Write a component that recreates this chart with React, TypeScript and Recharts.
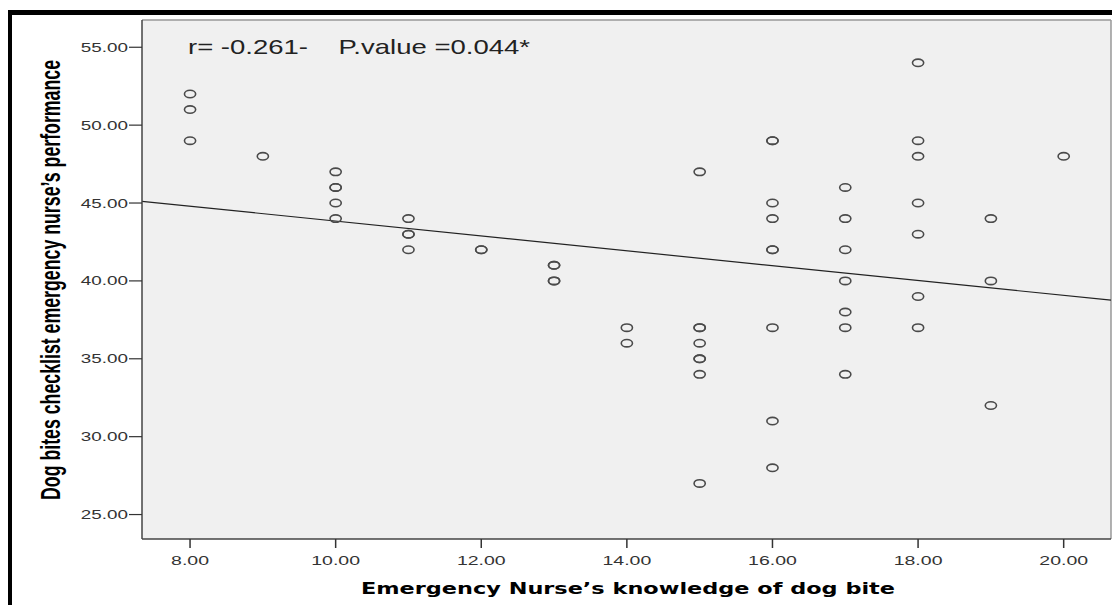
import React from 'react';
import { ScatterChart, Scatter, XAxis, YAxis, ReferenceLine, CartesianGrid } from 'recharts';

// Nurse knowledge score (x) and checklist performance score (y), one entry per nurse
const knowledge = [
  8, 8, 8,
  9,
  10, 10, 10, 10, 10,
  11, 11, 11, 11,
  12, 12,
  13, 13, 13, 13,
  14, 14,
  15, 15, 15, 15, 15, 15, 15, 15,
  16, 16, 16, 16, 16, 16, 16, 16, 16,
  17, 17, 17, 17, 17, 17, 17,
  18, 18, 18, 18, 18, 18, 18,
  19, 19, 19,
  20,
];
const performance = [
  52, 51, 49,
  48,
  47, 46, 46, 45, 44,
  44, 43, 43, 42,
  42, 42,
  41, 41, 40, 40,
  37, 36,
  47, 37, 37, 36, 35, 35, 34, 27,
  49, 49, 45, 44, 42, 42, 37, 31, 28,
  46, 44, 42, 40, 38, 37, 34,
  54, 49, 48, 45, 43, 39, 37,
  44, 40, 32,
  48,
];

// Fitted regression line endpoints
const fitX = [7.34, 20.65];
const fitY = [45.11, 38.76];

const xDomain = [7.34, 20.65];
const yDomain = [23.43, 56.75];
const xTicks = [8, 10, 12, 14, 16, 18, 20];
const yTicks = [25, 30, 35, 40, 45, 50, 55];

const annotation = 'r= -0.261-    P.value =0.044*';
const xTitle = 'Emergency Nurse\u2019s knowledge of dog bite';
const yTitle = 'Dog bites checklist emergency nurse\u2019s performance';

const points = knowledge.map((k, i) => ({ x: k, y: performance[i] }));

const Ring = (props: any) => {
  const { cx, cy } = props;
  if (cx == null || cy == null) return null;
  return <ellipse cx={cx} cy={cy} rx={5.6} ry={3.7} fill="none" stroke="#4a4a4a" strokeWidth={1.6} />;
};

const YTick = (props: any) => {
  const { x, y, payload } = props;
  return (
    <g transform={`translate(${x},${y})`}>
      <text textAnchor="end" transform="scale(1.45,1)" dy={4.5} fontSize={13} fill="#333"
        fontFamily="'Liberation Sans', Arial, sans-serif">
        {Number(payload.value).toFixed(2)}
      </text>
    </g>
  );
};

const XTick = (props: any) => {
  const { x, y, payload } = props;
  return (
    <g transform={`translate(${x},${y})`}>
      <text textAnchor="middle" transform="scale(1.5,1)" dy={15} fontSize={13} fill="#333"
        fontFamily="'Liberation Sans', Arial, sans-serif">
        {Number(payload.value).toFixed(2)}
      </text>
    </g>
  );
};

export default function App() {
  return (
    <div style={{ position: 'absolute', left: 0, top: 0, width: 1112, height: 605, background: '#fff', overflow: 'hidden' }}>
      <ScatterChart width={1112} height={605} margin={{ top: 20, right: 1, bottom: 0, left: 0 }}>
        <CartesianGrid fill="#f0f0f0" horizontal={false} vertical={false} />
        <XAxis
          type="number"
          dataKey="x"
          domain={xDomain}
          ticks={xTicks}
          height={66}
          tickSize={9}
          tickMargin={2}
          allowDataOverflow
          axisLine={{ stroke: '#444', strokeWidth: 1.5 }}
          tickLine={{ stroke: '#333', strokeWidth: 1.5 }}
          tick={XTick}
          interval={0}
        />
        <YAxis
          type="number"
          dataKey="y"
          domain={yDomain}
          ticks={yTicks}
          width={142}
          tickSize={13}
          tickMargin={1}
          allowDataOverflow
          axisLine={{ stroke: '#444', strokeWidth: 1.5 }}
          tickLine={{ stroke: '#333', strokeWidth: 1.2 }}
          tick={YTick}
          interval={0}
        />
        <ReferenceLine y={yDomain[1]} stroke="#999" strokeWidth={1.5} ifOverflow="visible" />
        <ReferenceLine x={xDomain[1]} stroke="#999" strokeWidth={1.5} ifOverflow="visible" />
        <ReferenceLine
          segment={[{ x: fitX[0], y: fitY[0] }, { x: fitX[1], y: fitY[1] }]}
          stroke="#222"
          strokeWidth={1.2}
          ifOverflow="visible"
        />
        <Scatter data={points} shape={Ring} isAnimationActive={false} />
      </ScatterChart>

      <svg width={1112} height={605} style={{ position: 'absolute', left: 0, top: 0, pointerEvents: 'none' }}>
        <text x={188} y={54} fontSize={21} fill="#222" fontFamily="'Liberation Sans', Arial, sans-serif"
          textLength={342} lengthAdjust="spacingAndGlyphs" style={{ whiteSpace: 'pre' }}>
          {annotation}
        </text>
        <text x={628} y={593.5} textAnchor="middle" fontSize={15} fontWeight="bold" fill="#000"
          fontFamily="'DejaVu Sans', Verdana, sans-serif" textLength={534} lengthAdjust="spacingAndGlyphs">
          {xTitle}
        </text>
        <text transform="translate(60,280) scale(1.45,1) rotate(-90)" textAnchor="middle" fontSize={19}
          fontWeight="bold" fill="#000" fontFamily="'Liberation Sans', Arial, sans-serif"
          textLength={440} lengthAdjust="spacingAndGlyphs">
          {yTitle}
        </text>
      </svg>

      <div style={{ position: 'absolute', left: 8, top: 10, width: 1104, height: 5, background: '#000' }} />
      <div style={{ position: 'absolute', left: 8, top: 10, width: 4, height: 595, background: '#000' }} />
    </div>
  );
}
